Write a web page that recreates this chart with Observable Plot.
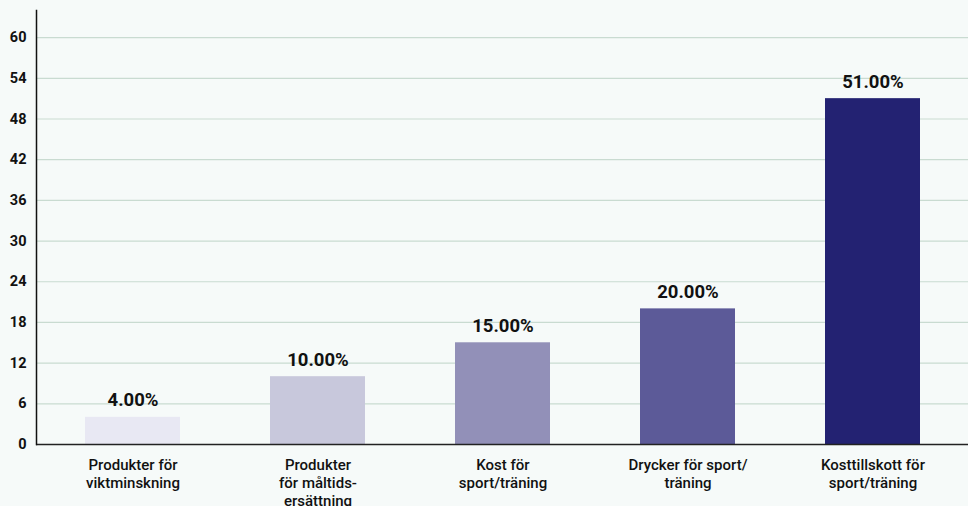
<!DOCTYPE html>
<html>
<head>
<meta charset="utf-8">
<script src="https://cdn.jsdelivr.net/npm/d3@7"></script>
<script src="https://cdn.jsdelivr.net/npm/@observablehq/plot@0.6"></script>
<style>
  html, body { margin: 0; padding: 0; background: #f6faf9; }
  #chart svg { display: block; background: #f6faf9; }
</style>
</head>
<body>
<div id="chart"></div>
<script>
const categories = [
  "Produkter för\nviktminskning",
  "Produkter\nför måltids-\nersättning",
  "Kost för\nsport/träning",
  "Drycker för sport/\nträning",
  "Kosttillskott för\nsport/träning"
];
const values = [4, 10, 15, 20, 51];
const colors = ["#e8e8f3", "#c8c8dc", "#9290b8", "#5c5a98", "#232272"];
const yTicks = [0, 6, 12, 18, 24, 30, 36, 42, 48, 54, 60];

const data = categories.map((c, i) => ({category: c, value: values[i], color: colors[i]}));

const chart = Plot.plot({
  width: 968,
  height: 506,
  marginLeft: 36,
  marginRight: 0,
  marginTop: 10,
  marginBottom: 62,
  style: {fontFamily: "Roboto, sans-serif", background: "#f6faf9", color: "#111"},
  x: {domain: categories, paddingInner: 0.488, paddingOuter: 0.256, label: null},
  y: {domain: [0, 64], label: null},
  marks: [
    Plot.gridY(yTicks, {stroke: "#c9dbd1", strokeOpacity: 1, strokeWidth: 1.2}),
    Plot.axisY(yTicks, {tickSize: 0, tickPadding: 10, fontSize: 14.5, fontWeight: "bold", fill: "#111", label: null}),
    Plot.axisX({tickSize: 0, tickPadding: 13, fontSize: 15, fontWeight: 500, fill: "#111", label: null, lineHeight: 1.2}),
    Plot.barY(data, {x: "category", y: "value", fill: "color"}),
    Plot.text(data, {x: "category", y: "value", text: d => d.value.toFixed(2) + "%", dy: -17, fontSize: 18.5, fontWeight: "bold", fill: "#111"}),
    Plot.ruleY([0], {stroke: "#222", strokeWidth: 1.5}),
    Plot.frame({anchor: "left", stroke: "#111", strokeWidth: 1.5})
  ]
});
document.getElementById("chart").appendChild(chart);
</script>
</body>
</html>
